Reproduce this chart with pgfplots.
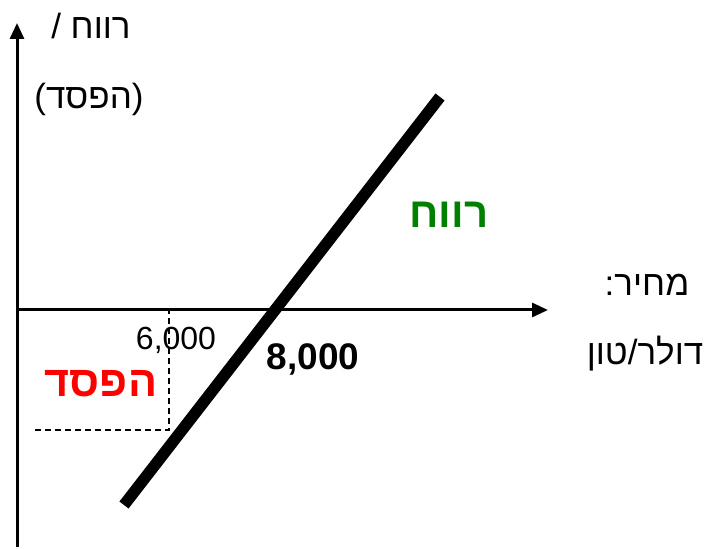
\documentclass[border=0pt]{standalone}
\usepackage{pgfplots}
\pgfplotsset{compat=1.18}
\usepackage{fontspec}
\setmainfont{Liberation Sans}
\newfontfamily\heb[Script=Hebrew]{Liberation Sans}
\TeXXeTstate=1
\usetikzlibrary{arrows.meta}
\definecolor{profitgreen}{RGB}{0,128,0}
\definecolor{lossred}{RGB}{255,0,0}
\begin{document}
\begin{tikzpicture}
\begin{axis}[
  scale only axis, width=707pt, height=547pt,
  xmin=-17, xmax=690, ymin=-237, ymax=310,
  axis lines=none, clip=false]
\path (rel axis cs:0,0) rectangle (rel axis cs:1,1);
% axes
\addplot[line width=3pt, -{Triangle[length=16pt,width=14pt]}] coordinates {(0,0) (531,0)};
\addplot[line width=3pt, -{Triangle[length=16pt,width=14pt]}] coordinates {(0,-237) (0,287)};
% dashed guide at 6,000
\addplot[line width=1.4pt, dash pattern=on 6pt off 4pt] coordinates {(18,-120) (152,-120) (152,0)};
% profit line
\addplot[line width=11.5pt] coordinates {(107,-195) (423,213)};
% labels
\node[anchor=base, font=\fontsize{35}{40}\selectfont] at (axis cs:74,271) {\heb\beginR רווח /\endR};
\node[anchor=base, font=\fontsize{35}{40}\selectfont] at (axis cs:72,201) {\heb\beginR (הפסד)\endR};
\node[anchor=base, font=\fontsize{35}{40}\selectfont] at (axis cs:630,14) {\heb\beginR מחיר:\endR};
\node[anchor=base, font=\fontsize{35}{40}\selectfont] at (axis cs:628,-55) {\heb\beginR דולר/טון\endR};
\node[anchor=base, font=\fontsize{32}{36}\selectfont] at (axis cs:159,-40) {6,000};
\node[anchor=base, font=\fontsize{37}{44}\selectfont\bfseries] at (axis cs:296,-60) {8,000};
\node[anchor=base, text=profitgreen, font=\fontsize{42}{48}\selectfont\bfseries] at (axis cs:432,82) {\heb\beginR רווח\endR};
\node[anchor=base, text=lossred, font=\fontsize{43}{48}\selectfont\bfseries] at (axis cs:84,-87) {\heb\beginR הפסד\endR};
\end{axis}
\end{tikzpicture}
\end{document}
